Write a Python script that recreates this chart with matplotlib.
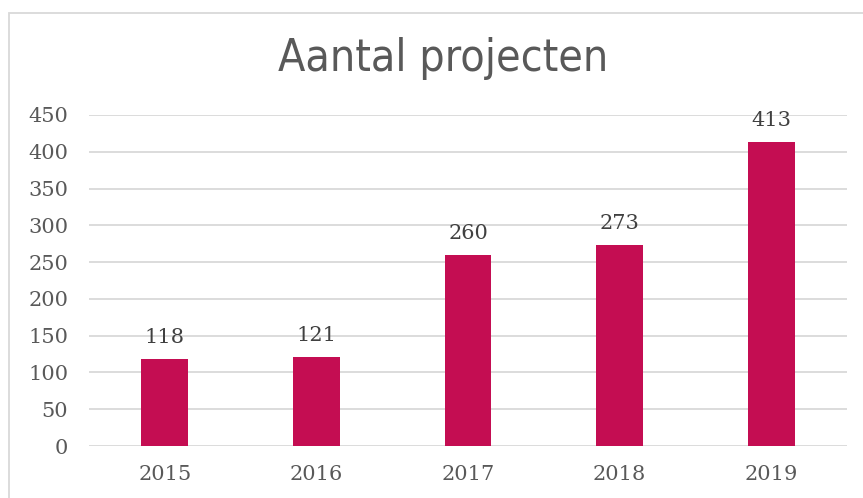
import matplotlib
matplotlib.use("Agg")
import matplotlib.pyplot as plt
from matplotlib.patches import Rectangle

years = ["2015", "2016", "2017", "2018", "2019"]
projects = [118, 121, 260, 273, 413]
yticks = [0, 50, 100, 150, 200, 250, 300, 350, 400, 450]

W, H = 863, 498
fig = plt.figure(figsize=(W / 100, H / 100), dpi=100)
fig.patch.set_facecolor("white")

# outer chart-area border
fig.patches.append(Rectangle((9 / W, -0.05), 1.2, 1 - 13 / H + 0.05,
                             transform=fig.transFigure, fill=False,
                             edgecolor="#d9d9d9", linewidth=1.3))

ax = fig.add_axes([89 / W, 1 - 446 / H, (847 - 89) / W, (446 - 115) / H])
x = range(len(years))
ax.bar(x, projects, width=0.31, color="#C40D52", zorder=3)
ax.set_xlim(-0.5, len(years) - 0.5)
ax.set_ylim(0, 450)
ax.set_yticks(yticks)
ax.set_xticks(list(x))
ax.set_xticklabels(years)
ax.grid(axis="y", color="#d9d9d9", linewidth=1.3, zorder=0)
for s in ax.spines.values():
    s.set_visible(False)
ax.tick_params(length=0, colors="#595959", labelsize=15)
ax.tick_params(axis="y", pad=15)
ax.tick_params(axis="x", pad=14)
for lab in ax.get_xticklabels() + ax.get_yticklabels():
    lab.set_family("DejaVu Serif")

for xi, v in zip(x, projects):
    ax.annotate(str(v), (xi, v), xytext=(0, 11.5), textcoords="offset points",
                ha="center", va="baseline", fontsize=15, color="#404040",
                family="DejaVu Serif")

fig.text(443 / W, 1 - 58 / H, "Aantal projecten", ha="center", va="center",
         fontsize=32, color="#595959", family="DejaVu Sans",
         fontstretch="condensed")

fig.savefig("out.png", dpi=100)
